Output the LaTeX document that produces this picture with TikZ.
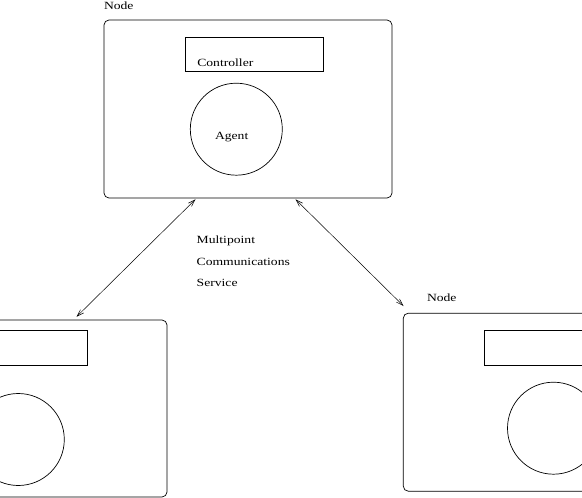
\documentclass[tikz,border=0pt]{standalone}
\usepackage{fontspec}
\setmainfont[FakeStretch=1.24]{Liberation Serif}
\usetikzlibrary{arrows.meta}
\begin{document}
\begin{tikzpicture}[x=1pt,y=-1pt,
  every node/.style={inner sep=0pt,outer sep=0pt},
  lbl/.style={anchor=base west,font=\fontsize{11}{13}\selectfont},
  nodebox/.style={draw,rounded corners=5pt,minimum width=288pt,line width=0.7pt},
  ctrlbox/.style={draw,minimum width=138pt,line width=0.7pt},
  agentc/.style={draw,circle,minimum size=92pt,line width=0.7pt},
  link/.style={line width=0.5pt,{Straight Barb[length=7pt,width=4.5pt]}-{Straight Barb[length=7pt,width=4.5pt]}}
]
\useasboundingbox (0,0) rectangle (582,498);
% top node
\node[nodebox,minimum height=178pt] (top) at (248,109) {};
\node[ctrlbox,minimum height=34pt] (topctrl) at (254,54) {};
\node[agentc] (topagent) at (236.3,129.2) {};
\node[lbl] (toplbl) at (104,9.5) {Node};
\node[lbl] (ctrltxt) at (197.3,66) {Controller};
\node[lbl] (agenttxt) at (215,139.3) {Agent};
% bottom left node
\node[nodebox,minimum height=177pt] (bl) at (23,408.5) {};
\node[ctrlbox,minimum height=34.7pt] (blctrl) at (18.3,347.7) {};
\node[agentc] (blagent) at (18.3,439.5) {};
% bottom right node
\node[nodebox,minimum height=178pt] (br) at (547.3,402.2) {};
\node[ctrlbox,minimum height=35pt] (brctrl) at (553.3,347.5) {};
\node[agentc] (bragent) at (553.5,428.2) {};
\node[lbl] (brlbl) at (427,301.5) {Node};
% service label
\node[lbl] (s1) at (196.7,243) {Multipoint};
\node[lbl] (s2) at (196.7,265) {Communications};
\node[lbl] (s3) at (196.7,286) {Service};
% connectors
\coordinate (la) at (195.5,199.3);
\coordinate (lb) at (76.5,316.8);
\coordinate (ra) at (295.5,199.3);
\coordinate (rb) at (403.5,306);
\draw[link] (la) -- (lb);
\draw[link] (ra) -- (rb);
\end{tikzpicture}
\end{document}
